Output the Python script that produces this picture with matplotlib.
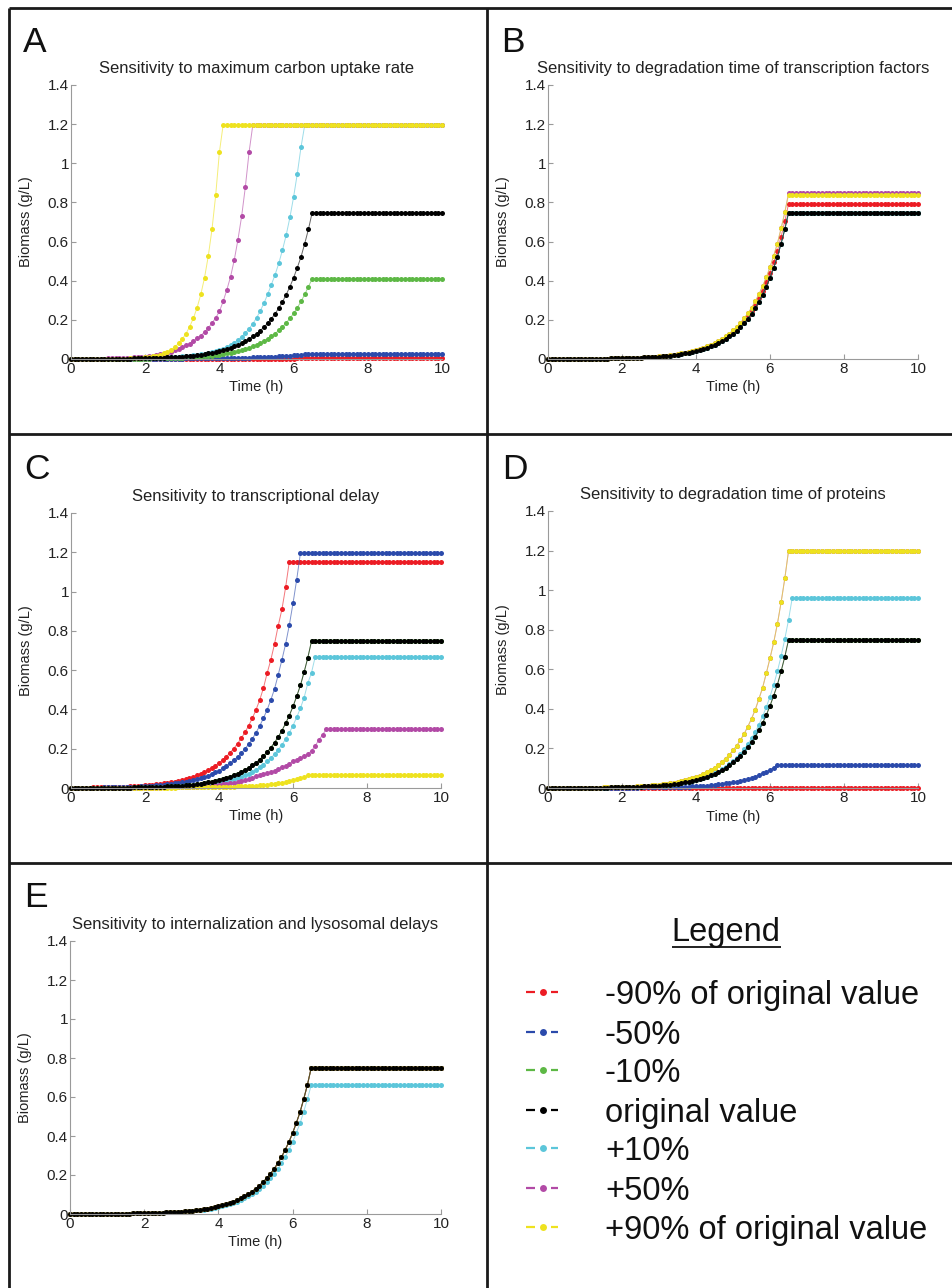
import matplotlib
matplotlib.use('Agg')
import matplotlib.pyplot as plt
import numpy as np

plt.rcParams['font.family'] = ['Liberation Sans', 'DejaVu Sans']

# sampling grid of the simulations (every 0.1 h)
time_h = np.round(np.arange(101) * 0.1, 1)

# ---- original value (black), same curve in every panel ----
original = [0.0004, 0.0004, 0.0005, 0.0005, 0.0006, 0.0007, 0.0008, 0.0009, 0.0010, 0.0011,
            0.0012, 0.0014, 0.0015, 0.0017, 0.0019, 0.0021, 0.0024, 0.0027, 0.0031, 0.0034,
            0.0039, 0.0043, 0.0049, 0.0055, 0.0062, 0.0069, 0.0078, 0.0087, 0.0098, 0.0110,
            0.0124, 0.0140, 0.0157, 0.0176, 0.0198, 0.0223, 0.0250, 0.0282, 0.0317, 0.0356,
            0.040, 0.045, 0.051, 0.057, 0.064, 0.072, 0.081, 0.091, 0.102, 0.115,
            0.129, 0.145, 0.163, 0.183, 0.206, 0.231, 0.260, 0.292, 0.329, 0.369,
            0.415, 0.467, 0.522, 0.590, 0.663] + [0.748] * 36

# ---- A: maximum carbon uptake rate ----
A_m90 = [0.0005] * 35 + [0.0006, 0.0006, 0.0007, 0.0007, 0.0008, 0.0008, 0.0009, 0.0009, 0.0010, 0.0010,
                         0.0011, 0.0012, 0.0012, 0.0013, 0.0014, 0.0015, 0.0016, 0.0017, 0.0018, 0.0019,
                         0.0020, 0.0021, 0.0022, 0.0023, 0.0024, 0.0025, 0.0026, 0.0027, 0.0028, 0.0029] + [0.0030] * 36
A_m50 = [0.0004, 0.0004, 0.0005, 0.0005, 0.0005, 0.0006, 0.0006, 0.0006, 0.0007, 0.0007,
         0.0008, 0.0008, 0.0009, 0.0009, 0.0010, 0.0010, 0.0011, 0.0012, 0.0012, 0.0013,
         0.0014, 0.0015, 0.0016, 0.0017, 0.0018, 0.0019, 0.0020, 0.0021, 0.0023, 0.0024,
         0.0025, 0.0026, 0.0027, 0.0028, 0.0029, 0.0030, 0.0031, 0.0033, 0.0034, 0.0036,
         0.0038, 0.0042, 0.0045, 0.0049, 0.0053, 0.0057, 0.0062, 0.0067, 0.0073, 0.0079,
         0.0085, 0.0092, 0.0100, 0.0108, 0.0117, 0.0127, 0.0137, 0.0149, 0.0161, 0.0175,
         0.0189, 0.0205, 0.0222, 0.0240, 0.0260] + [0.028] * 36
A_m10 = [0.0002, 0.0002, 0.0003, 0.0003, 0.0003, 0.0004, 0.0004, 0.0005, 0.0006, 0.0006,
         0.0007, 0.0008, 0.0008, 0.0010, 0.0011, 0.0012, 0.0013, 0.0015, 0.0017, 0.0019,
         0.0022, 0.0024, 0.0027, 0.0031, 0.0035, 0.0039, 0.0044, 0.0049, 0.0055, 0.0062,
         0.0069, 0.0078, 0.0088, 0.0099, 0.0111, 0.0125, 0.0140, 0.0158, 0.0178, 0.0199,
         0.022, 0.025, 0.029, 0.032, 0.036, 0.040, 0.045, 0.051, 0.057, 0.064,
         0.073, 0.082, 0.092, 0.103, 0.116, 0.130, 0.146, 0.164, 0.185, 0.207,
         0.233, 0.262, 0.294, 0.330, 0.370] + [0.409] * 36
A_p10 = [0.0004, 0.0004, 0.0005, 0.0005, 0.0006, 0.0007, 0.0008, 0.0009, 0.0010, 0.0011,
         0.0013, 0.0014, 0.0016, 0.0018, 0.0020, 0.0022, 0.0025, 0.0029, 0.0032, 0.0036,
         0.0040, 0.0045, 0.0050, 0.0056, 0.0063, 0.0070, 0.0080, 0.0090, 0.0100, 0.0115,
         0.013, 0.015, 0.017, 0.019, 0.022, 0.025, 0.028, 0.031, 0.035, 0.040,
         0.046, 0.053, 0.062, 0.072, 0.084, 0.098, 0.114, 0.133, 0.155, 0.180,
         0.210, 0.245, 0.285, 0.330, 0.380, 0.430, 0.489, 0.557, 0.633, 0.723,
         0.828, 0.947, 1.083] + [1.195] * 38
A_p50 = [0.0005, 0.0006, 0.0008, 0.0009, 0.0010, 0.0012, 0.0014, 0.0016, 0.0019, 0.0022,
         0.0026, 0.0030, 0.0036, 0.0042, 0.0049, 0.0057, 0.0067, 0.0078, 0.0091, 0.0107,
         0.0125, 0.0146, 0.0171, 0.0200, 0.0234, 0.0274, 0.0320, 0.0375, 0.044, 0.051,
         0.060, 0.069, 0.079, 0.091, 0.105, 0.120, 0.138, 0.159, 0.183, 0.210,
         0.243, 0.294, 0.353, 0.420, 0.505, 0.610, 0.730, 0.880, 1.057] + [1.195] * 52
A_p90 = [0.0004, 0.0004, 0.0005, 0.0005, 0.0006, 0.0006, 0.0007, 0.0008, 0.0009, 0.0010,
         0.0011, 0.0012, 0.0013, 0.0015, 0.0017, 0.0022, 0.0028, 0.0036, 0.0047, 0.0060,
         0.008, 0.010, 0.013, 0.017, 0.022, 0.029, 0.037, 0.048, 0.062, 0.080,
         0.102, 0.130, 0.166, 0.209, 0.263, 0.331, 0.416, 0.526, 0.662, 0.837,
         1.057] + [1.195] * 60

# ---- B: degradation time of transcription factors ----
B_rise_m90 = [0.024, 0.027, 0.030, 0.034, 0.038, 0.043, 0.048, 0.054, 0.060, 0.068,
              0.076, 0.086, 0.096, 0.108, 0.122, 0.137, 0.154, 0.173, 0.194, 0.218,
              0.245, 0.276, 0.310, 0.349, 0.391, 0.440, 0.495, 0.553, 0.625, 0.703]
B_rise_p90 = [0.014, 0.0158, 0.0177, 0.0199, 0.0224, 0.0252, 0.0283, 0.0319, 0.0358, 0.0402,
              0.0452, 0.0509, 0.0576, 0.0644, 0.0723, 0.0814, 0.0915, 0.103, 0.115, 0.130,
              0.146, 0.164, 0.184, 0.207, 0.233, 0.261, 0.294, 0.330, 0.372, 0.417,
              0.469, 0.528, 0.590, 0.667, 0.749]
B_m90 = original[:35] + B_rise_m90 + [0.791] * 36
B_m50 = original[:65] + [0.744] * 36
B_m10 = original
B_p10 = original
B_p50 = original[:30] + B_rise_p90 + [0.847] * 36
B_p90 = original[:30] + B_rise_p90 + [0.838] * 36

# ---- C: transcriptional delay ----
C_m90 = [0.0014, 0.0016, 0.0018, 0.0020, 0.0022, 0.0025, 0.0028, 0.0031, 0.0034, 0.0038,
         0.0042, 0.0048, 0.0053, 0.0060, 0.0067, 0.0075, 0.0084, 0.0094, 0.0105, 0.0118,
         0.013, 0.015, 0.017, 0.019, 0.021, 0.023, 0.026, 0.029, 0.033, 0.037,
         0.041, 0.046, 0.052, 0.058, 0.065, 0.073, 0.081, 0.091, 0.102, 0.114,
         0.128, 0.143, 0.160, 0.180, 0.201, 0.226, 0.253, 0.283, 0.317, 0.355,
         0.398, 0.448, 0.508, 0.584, 0.652, 0.733, 0.826, 0.909, 1.021] + [1.152] * 42
C_m50 = [0.0010, 0.0011, 0.0012, 0.0014, 0.0015, 0.0017, 0.0019, 0.0021, 0.0024, 0.0027,
         0.0030, 0.0033, 0.0037, 0.0041, 0.0046, 0.0051, 0.0057, 0.0064, 0.0072, 0.0080,
         0.009, 0.010, 0.011, 0.013, 0.014, 0.016, 0.018, 0.020, 0.023, 0.025,
         0.029, 0.032, 0.036, 0.040, 0.045, 0.050, 0.056, 0.063, 0.071, 0.079,
         0.089, 0.100, 0.112, 0.125, 0.141, 0.158, 0.177, 0.199, 0.223, 0.250,
         0.282, 0.316, 0.355, 0.398, 0.448, 0.504, 0.576, 0.652, 0.733, 0.829,
         0.940, 1.061] + [1.195] * 39
C_m10 = original
C_p10 = [0.0004, 0.0004, 0.0005, 0.0005, 0.0006, 0.0006, 0.0007, 0.0008, 0.0009, 0.0010,
         0.0011, 0.0012, 0.0013, 0.0015, 0.0016, 0.0018, 0.0020, 0.0022, 0.0025, 0.0027,
         0.0030, 0.0033, 0.0036, 0.0040, 0.0044, 0.0049, 0.0054, 0.0060, 0.0066, 0.0073,
         0.0081, 0.0091, 0.0103, 0.0117, 0.013, 0.015, 0.017, 0.019, 0.021, 0.024,
         0.027, 0.031, 0.035, 0.040, 0.045, 0.051, 0.057, 0.065, 0.073, 0.083,
         0.093, 0.105, 0.119, 0.135, 0.152, 0.172, 0.195, 0.220, 0.249, 0.281,
         0.318, 0.360, 0.406, 0.460, 0.533, 0.587] + [0.668] * 35
C_p50 = [0.0004, 0.0004, 0.0005, 0.0005, 0.0005, 0.0006, 0.0006, 0.0007, 0.0007, 0.0008,
         0.0008, 0.0009, 0.0010, 0.0010, 0.0011, 0.0012, 0.0013, 0.0014, 0.0015, 0.0016,
         0.0018, 0.0019, 0.0021, 0.0023, 0.0025, 0.0027, 0.0029, 0.0032, 0.0035, 0.0038,
         0.0045, 0.0050, 0.0055, 0.0062, 0.0069, 0.0078, 0.0089, 0.0100, 0.0115, 0.0135,
         0.016, 0.018, 0.020, 0.023, 0.026, 0.030, 0.034, 0.039, 0.045, 0.052,
         0.059, 0.064, 0.070, 0.076, 0.082, 0.089, 0.097, 0.105, 0.114, 0.124,
         0.135, 0.143, 0.151, 0.161, 0.172, 0.190, 0.215, 0.245, 0.271] + [0.300] * 32
C_p90 = [0.0004, 0.0004, 0.0004, 0.0005, 0.0005, 0.0005, 0.0006, 0.0006, 0.0006, 0.0007,
         0.0007, 0.0008, 0.0008, 0.0009, 0.0009, 0.0010, 0.0011, 0.0011, 0.0012, 0.0013,
         0.0014, 0.0015, 0.0016, 0.0017, 0.0018, 0.0019, 0.0021, 0.0022, 0.0024, 0.0026,
         0.0027, 0.0029, 0.0031, 0.0033, 0.0035, 0.0037, 0.0039, 0.0041, 0.0043, 0.0045,
         0.0048, 0.0053, 0.0058, 0.0064, 0.0070, 0.0077, 0.0084, 0.0092, 0.0100, 0.0110,
         0.012, 0.0135, 0.015, 0.017, 0.019, 0.021, 0.023, 0.026, 0.030, 0.035,
         0.039, 0.044, 0.049, 0.055] + [0.064] * 37

# ---- D: degradation time of proteins ----
D_m90 = [0.0004] * 40 + [0.0005] * 25 + [0.0006] * 36
D_m50 = [0.0004, 0.0004, 0.0005, 0.0005, 0.0005, 0.0006, 0.0006, 0.0007, 0.0007, 0.0008,
         0.0008, 0.0009, 0.0010, 0.0010, 0.0011, 0.0012, 0.0013, 0.0014, 0.0015, 0.0016,
         0.0017, 0.0019, 0.0020, 0.0022, 0.0024, 0.0026, 0.0028, 0.0030, 0.0032, 0.0035,
         0.0038, 0.0041, 0.0044, 0.0048, 0.0051, 0.0055, 0.0060, 0.0065, 0.0070, 0.0076,
         0.0085, 0.0095, 0.011, 0.012, 0.014, 0.016, 0.018, 0.020, 0.023, 0.026,
         0.029, 0.032, 0.036, 0.041, 0.046, 0.051, 0.058, 0.066, 0.074, 0.082,
         0.092, 0.103] + [0.114] * 39
D_m10 = original
D_p10 = original[:40] + [0.041, 0.046, 0.052, 0.058, 0.066, 0.074, 0.083, 0.094, 0.106, 0.120,
                         0.136, 0.154, 0.174, 0.196, 0.222, 0.251, 0.283, 0.320, 0.362, 0.409,
                         0.462, 0.522, 0.590, 0.666, 0.753, 0.849] + [0.960] * 35
D_p90 = [0.0004, 0.0005, 0.0006, 0.0006, 0.0007, 0.0008, 0.0009, 0.0010, 0.0012, 0.0013,
         0.0015, 0.0017, 0.0019, 0.0021, 0.0024, 0.0027, 0.0031, 0.0035, 0.0039, 0.0044,
         0.0050, 0.0057, 0.0064, 0.0072, 0.0082, 0.0092, 0.0104, 0.0118, 0.0133, 0.0150,
         0.017, 0.019, 0.021, 0.024, 0.027, 0.031, 0.035, 0.039, 0.044, 0.050,
         0.056, 0.063, 0.072, 0.081, 0.091, 0.103, 0.117, 0.132, 0.149, 0.168,
         0.190, 0.214, 0.242, 0.274, 0.310, 0.350, 0.395, 0.450, 0.507, 0.580,
         0.656, 0.736, 0.830, 0.938, 1.059] + [1.197] * 36
D_p50 = D_p90

# ---- E: internalization and lysosomal delays ----
E_p10 = original[:35] + [0.0198, 0.0223, 0.0251, 0.0282, 0.0317, 0.0356, 0.040, 0.045, 0.051, 0.057,
                         0.064, 0.072, 0.081, 0.091, 0.102, 0.115, 0.129, 0.145, 0.163, 0.183,
                         0.206, 0.231, 0.260, 0.293, 0.328, 0.369, 0.416, 0.465, 0.525, 0.590] + [0.659] * 36

keys = ['m90', 'm50', 'm10', 'orig', 'p10', 'p50', 'p90']
labels = ['-90% of original value', '-50%', '-10%', 'original value',
          '+10%', '+50%', '+90% of original value']
colors = {'m90': '#ec1c24', 'm50': '#2b4aab', 'm10': '#5db845', 'orig': '#000000',
          'p10': '#5cc6da', 'p50': '#b24aa6', 'p90': '#eee21f'}
draw_order = ['m90', 'm50', 'm10', 'p10', 'p50', 'p90', 'orig']

panels = [
    ('A', 'Sensitivity to maximum carbon uptake rate',
     dict(m90=A_m90, m50=A_m50, m10=A_m10, orig=original, p10=A_p10, p50=A_p50, p90=A_p90)),
    ('B', 'Sensitivity to degradation time of transcription factors',
     dict(m90=B_m90, m50=B_m50, m10=B_m10, orig=original, p10=B_p10, p50=B_p50, p90=B_p90)),
    ('C', 'Sensitivity to transcriptional delay',
     dict(m90=C_m90, m50=C_m50, m10=C_m10, orig=original, p10=C_p10, p50=C_p50, p90=C_p90)),
    ('D', 'Sensitivity to degradation time of proteins',
     dict(m90=D_m90, m50=D_m50, m10=D_m10, orig=original, p10=D_p10, p50=D_p50, p90=D_p90)),
    ('E', 'Sensitivity to internalization and lysosomal delays',
     dict(m90=original, m50=original, m10=original, orig=original, p10=E_p10, p50=original, p90=original)),
]

W, H = 952, 1288
# axes boxes in pixels: left, top, right, bottom
boxes = [(71, 85, 442, 359), (548, 85, 918, 359),
         (71, 513, 441, 788), (548, 511, 918, 788),
         (70, 941, 441, 1214)]
letter_pos = [(23, 52), (501, 52), (24, 479), (502, 479), (24, 907)]

fig = plt.figure(figsize=(W / 100, H / 100), dpi=100)

for (letter, title, data), (l, t, r, b) in zip(panels, boxes):
    ax = fig.add_axes([l / W, 1 - b / H, (r - l) / W, (b - t) / H])
    for k in draw_order:
        y = data[k]
        ax.plot(time_h, y, '-', color=colors[k], lw=0.7, alpha=0.6, clip_on=False)
        ax.plot(time_h, y, 'o', color=colors[k], ms=3.6, mec='none', clip_on=False)
    ax.set_xlim(0, 10)
    ax.set_ylim(0, 1.4)
    ax.set_xticks([0, 2, 4, 6, 8, 10])
    ax.set_yticks([0, 0.2, 0.4, 0.6, 0.8, 1.0, 1.2, 1.4])
    ax.set_yticklabels(['0', '0.2', '0.4', '0.6', '0.8', '1', '1.2', '1.4'])
    for s in ['top', 'right']:
        ax.spines[s].set_visible(False)
    for s in ['left', 'bottom']:
        ax.spines[s].set_color('#9a9a9a')
        ax.spines[s].set_linewidth(0.8)
    ax.tick_params(direction='in', length=3.5, width=0.8, color='#9a9a9a',
                   labelsize=11, labelcolor='#222222')
    ax.tick_params(axis='x', pad=2.5)
    ax.tick_params(axis='y', pad=1.5)
    ax.set_xlabel('Time (h)', fontsize=10.5, color='#222222')
    ax.set_ylabel('Biomass (g/L)', fontsize=10.5, color='#222222')
    ax.xaxis.set_label_coords(0.5, -0.078)
    ax.yaxis.set_label_coords(-38 / (r - l), 0.5)
    ax.set_title(title, fontsize=12, pad=8.5, color='#222222')

# overlay in pixel coordinates for frame, letters and legend panel
ov = fig.add_axes([0, 0, 1, 1], zorder=-1)
ov.set_xlim(0, W)
ov.set_ylim(H, 0)
ov.axis('off')

frame_kw = dict(color='#1a1a1a', lw=2.0, solid_capstyle='butt')
ov.plot([9, W], [8, 8], **frame_kw)
ov.plot([9, 9], [8, H], **frame_kw)
ov.plot([487, 487], [8, H], **frame_kw)
ov.plot([9, W], [434, 434], **frame_kw)
ov.plot([9, W], [863, 863], **frame_kw)

for (letter, _, _), (x, y) in zip(panels, letter_pos):
    ov.text(x, y, letter, fontsize=25.5, va='baseline', ha='left', color='#111111')

# legend panel
leg_title = ov.text(726, 941, 'Legend', fontsize=23.5, ha='center', va='baseline', color='#111111')
row_y = [992, 1032, 1070, 1110, 1148, 1188, 1227]
for k, lab, y in zip(keys, labels, row_y):
    c = colors[k]
    ov.plot([526, 535], [y, y], color=c, lw=1.6, solid_capstyle='butt')
    ov.plot([551, 558], [y, y], color=c, lw=1.6, solid_capstyle='butt')
    ov.plot([543], [y], 'o', color=c, ms=5, mec='none')
    ov.text(605, y, lab, fontsize=23.5, ha='left', va='center_baseline', color='#111111')

fig.canvas.draw()
bb = leg_title.get_window_extent()
ov.plot([bb.x0, bb.x1], [947, 947], color='#111111', lw=1.3, solid_capstyle='butt')

fig.savefig('out.png', dpi=100)
